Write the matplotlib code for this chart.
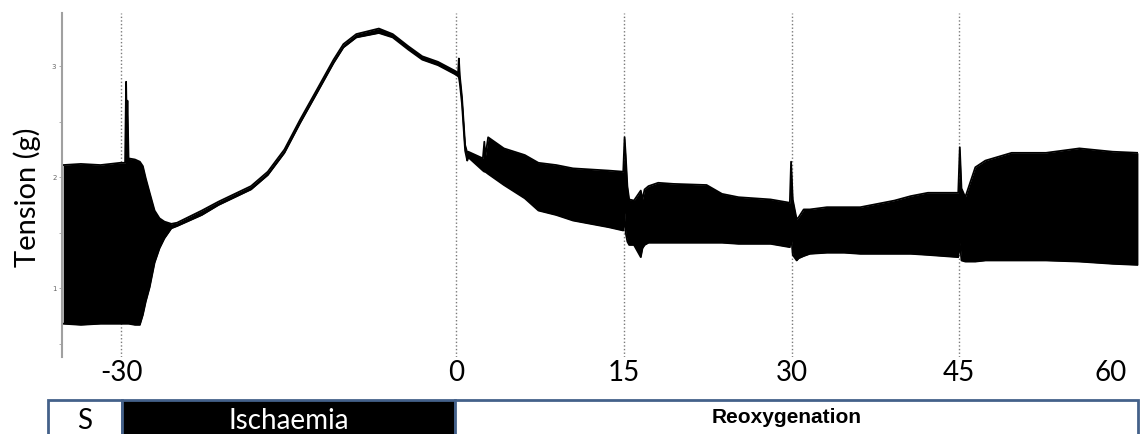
import matplotlib
matplotlib.use("Agg")
import matplotlib.pyplot as plt
from matplotlib.patches import Rectangle

# Час (хв) та огинаючі запису напруги (г): верхня та нижня межі
time_min = [-35.19, -33.61, -31.85, -30.09, -29.65, -29.56, -29.50, -29.44, -29.34, -28.77,
            -28.33, -28.06, -27.80, -27.45, -27.01, -26.57, -26.13, -25.51, -25.00, -22.78,
            -21.29, -18.38, -16.88, -15.39, -13.98, -12.48, -10.99, -10.11, -8.96, -6.94,
            -5.70, -4.30, -3.06, -1.65, -0.15, 0.15, 0.22, 0.30, 0.50, 0.78,
            0.97, 1.06, 2.37, 2.50, 2.58, 2.84, 4.25, 6.12, 7.34, 8.93,
            10.43, 13.62, 14.93, 15.05, 15.15, 15.30, 15.46, 15.89, 16.50, 16.65,
            16.84, 17.19, 18.06, 19.44, 22.39, 23.77, 25.25, 28.11, 29.84, 29.95,
            30.10, 30.45, 30.63, 31.08, 31.63, 33.16, 34.70, 36.14, 37.68, 39.21,
            40.66, 42.20, 44.91, 45.05, 45.20, 45.54, 46.44, 47.34, 49.69, 52.76,
            55.75, 58.73, 60.99]
upper_g = [2.11, 2.12, 2.11, 2.13, 2.13, 2.86, 2.45, 2.69, 2.17, 2.16,
           2.14, 2.10, 1.99, 1.86, 1.70, 1.63, 1.60, 1.58, 1.59, 1.70,
           1.78, 1.92, 2.05, 2.25, 2.52, 2.79, 3.06, 3.20, 3.29, 3.34,
           3.29, 3.18, 3.09, 3.04, 2.96, 2.94, 3.07, 2.92, 2.72, 2.29,
           2.22, 2.23, 2.17, 2.32, 2.18, 2.36, 2.26, 2.20, 2.13, 2.11,
           2.08, 2.06, 2.05, 2.36, 2.20, 1.92, 1.80, 1.79, 1.88, 1.80,
           1.89, 1.92, 1.95, 1.94, 1.93, 1.85, 1.82, 1.80, 1.77, 2.14,
           1.80, 1.62, 1.64, 1.71, 1.71, 1.73, 1.73, 1.73, 1.76, 1.79,
           1.83, 1.86, 1.86, 2.27, 1.90, 1.82, 2.09, 2.15, 2.22, 2.22,
           2.26, 2.23, 2.22]
lower_g = [0.68, 0.67, 0.68, 0.68, 0.68, 0.68, 0.68, 0.68, 0.68, 0.67,
           0.67, 0.76, 0.88, 1.01, 1.23, 1.36, 1.45, 1.54, 1.56, 1.66,
           1.75, 1.89, 2.02, 2.22, 2.49, 2.76, 3.03, 3.17, 3.26, 3.30,
           3.26, 3.15, 3.06, 3.01, 2.93, 2.91, 2.90, 2.85, 2.66, 2.24,
           2.15, 2.18, 2.06, 2.05, 2.05, 2.03, 1.93, 1.81, 1.70, 1.66,
           1.61, 1.55, 1.52, 1.68, 1.50, 1.42, 1.39, 1.39, 1.28, 1.36,
           1.39, 1.41, 1.41, 1.41, 1.41, 1.41, 1.40, 1.40, 1.37, 1.48,
           1.30, 1.25, 1.27, 1.29, 1.31, 1.32, 1.32, 1.31, 1.31, 1.31,
           1.31, 1.30, 1.28, 1.41, 1.25, 1.24, 1.24, 1.25, 1.25, 1.25,
           1.24, 1.22, 1.21]

# Позначки подій та підписи осі часу
event_lines = [-30, 0, 15, 30, 45]
x_ticks = [-30, 0, 15, 30, 45, 60]
y_ticks = [0.5, 1.0, 1.5, 2.0, 2.5, 3.0]
y_tick_labels = ["", "1", "", "2", "", "3"]

# Смуга протоколу під графіком
phase_names = ["S", "Ischaemia", "Reoxygenation"]

fig = plt.figure(figsize=(11.41, 4.34), dpi=100)
ax = fig.add_axes([0.0543, 0.1774, 0.9431, 0.7926])

for xv in event_lines:
    ax.axvline(xv, color="#7a7a7a", lw=1, ls=(0, (1, 1.6)), zorder=0)

ax.fill_between(time_min, lower_g, upper_g, color="black", lw=0, zorder=2)
ax.plot(time_min, upper_g, color="black", lw=1.3, zorder=2)
ax.plot(time_min, lower_g, color="black", lw=1.3, zorder=2)

ax.set_xlim(-35.3, 61.0)
ax.set_ylim(0.38, 3.48)

for side in ["top", "right", "bottom"]:
    ax.spines[side].set_visible(False)
ax.spines["left"].set_color("#a0a0a0")
ax.spines["left"].set_linewidth(1.5)

ax.set_xticks(x_ticks)
ax.set_xticklabels([str(v) for v in x_ticks], fontsize=20, family="Lato")
ax.tick_params(axis="x", length=0, pad=2)
# підпис «60» у оригіналі трохи зсунутий ліворуч
ax.get_xticklabels()[-1].set_ha("right")

ax.set_yticks(y_ticks)
ax.set_yticklabels(y_tick_labels, fontsize=5, color="#666666")
ax.tick_params(axis="y", length=2, width=0.6, color="#a0a0a0", pad=2)

fig.text(27 / 1141, 1 - 197 / 434, "Tension (g)", rotation=90, ha="center", va="center",
         fontsize=21, family="Lato")

# Прямокутники протоколу (нижня межа обрізана краєм рисунка)
border = "#44618a"
edges = [48, 122, 455, 1138]
fills = ["white", "black", "white"]
for i in range(3):
    x0 = edges[i] / 1141
    w = (edges[i + 1] - edges[i]) / 1141
    fig.patches.append(Rectangle((x0, -0.2), w, 0.2 + 1 - 400 / 434, transform=fig.transFigure,
                                 facecolor=fills[i], edgecolor=border, lw=2, zorder=1))

fig.text(85 / 1141, 1 - 429 / 434, phase_names[0], ha="center", va="baseline",
         fontsize=20, family="Lato", color="black")
fig.text(289 / 1141, 1 - 429 / 434, phase_names[1], ha="center", va="baseline",
         fontsize=20, family="Lato", color="white")
fig.text(787 / 1141, 1 - 423 / 434, phase_names[2], ha="center", va="baseline",
         fontsize=15, family="Liberation Sans", weight="bold", color="black")

fig.savefig("out.png", dpi=100)
